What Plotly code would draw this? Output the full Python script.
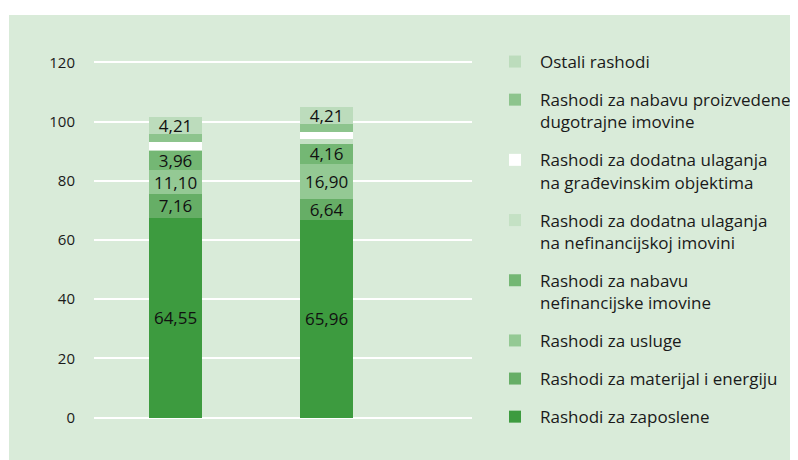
import plotly.graph_objects as go

# Categories (the two columns; the chart shows no axis labels for them)
categories = ["Stupac 1", "Stupac 2"]

# Series, bottom of the stack to the top
series_names = [
    "Rashodi za zaposlene",
    "Rashodi za materijal i energiju",
    "Rashodi za usluge",
    "Rashodi za nabavu<br>nefinancijske imovine",
    "Rashodi za dodatna ulaganja<br>na nefinancijskoj imovini",
    "Rashodi za dodatna ulaganja<br>na građevinskim objektima",
    "Rashodi za nabavu proizvedene<br>dugotrajne imovine",
    "Ostali rashodi",
]

# Segment heights as drawn in the picture
zaposlene = [67.5, 66.7]
materijal = [8.0, 7.0]
usluge = [8.1, 12.1]
nabava_nefin = [6.6, 6.6]
dodatna_nefin = [0.2, 1.6]
dodatna_gradj = [2.6, 2.5]
proizvedene = [2.7, 2.8]
ostali = [5.8, 5.6]

# Value labels printed on the segments
labels_zaposlene = ["64,55", "65,96"]
labels_materijal = ["7,16", "6,64"]
labels_usluge = ["11,10", "16,90"]
labels_nabava_nefin = ["3,96", "4,16"]
labels_dodatna_nefin = ["", ""]
labels_dodatna_gradj = ["", ""]
labels_proizvedene = ["", ""]
labels_ostali = ["4,21", "4,21"]

y_ticks = [0, 20, 40, 60, 80, 100, 120]

values = [zaposlene, materijal, usluge, nabava_nefin, dodatna_nefin,
          dodatna_gradj, proizvedene, ostali]
labels = [labels_zaposlene, labels_materijal, labels_usluge, labels_nabava_nefin,
          labels_dodatna_nefin, labels_dodatna_gradj, labels_proizvedene, labels_ostali]
colors = ["#3d9b3f", "#66ae66", "#94c994", "#74b774", "#c4e1c4",
          "#ffffff", "#8dc48d", "#bcdcbc"]

BG = "#d9ebd9"
FONT = "Open Sans"

# plot-area geometry (figure pixels)
L, R, T, B = 86, 334, 50, 46
PW, PH = 798 - L - R, 460 - T - B

fig = go.Figure()
n = len(series_names)
for i, (name, vals, labs, col) in enumerate(zip(series_names, values, labels, colors)):
    fig.add_trace(go.Bar(
        x=categories, y=vals, name=name, text=labs,
        textposition="inside", insidetextanchor="middle",
        textfont=dict(family=FONT, size=17, color="#111111"),
        marker=dict(color=col, line=dict(width=0)),
        width=0.351, legendgroup=name, legendrank=n - i,
        hoverinfo="name+y",
    ))

fig.update_layout(
    width=798, height=460,
    barmode="stack",
    paper_bgcolor="white",
    plot_bgcolor="rgba(0,0,0,0)",
    margin=dict(l=L, r=R, t=T, b=B, pad=0),
    font=dict(family=FONT, color="#1a1a1a"),
    uniformtext=dict(minsize=17, mode="show"),
    xaxis=dict(range=[-0.54, 1.963], showticklabels=False, showgrid=False,
               zeroline=False, showline=False, ticks=""),
    yaxis=dict(range=[-1.5, 121.5], tickvals=y_ticks, ticktext=[str(v) for v in y_ticks],
               showgrid=True, gridcolor="white", gridwidth=1.5,
               zeroline=False, showline=False, ticks="",
               tickfont=dict(family=FONT, size=15, color="#1a1a1a"),
               ticklabelstandoff=18),
    legend=dict(
        xref="container", yref="container",
        x=482 / 798, y=1 - 36 / 460, xanchor="left", yanchor="top",
        traceorder="grouped", tracegroupgap=13, valign="top",
        itemwidth=40, maxheight=460,
        font=dict(family=FONT, size=17, color="#1a1a1a"),
        bgcolor="rgba(0,0,0,0)",
    ),
    shapes=[dict(type="rect", xref="paper", yref="paper", layer="below",
                 x0=(1 - L) / PW, x1=(810 - L) / PW,
                 y0=-(470 - (460 - B)) / PH, y1=((460 - B) - 7) / PH,
                 fillcolor=BG, line=dict(width=0))],
)

fig.write_html("out.html")
